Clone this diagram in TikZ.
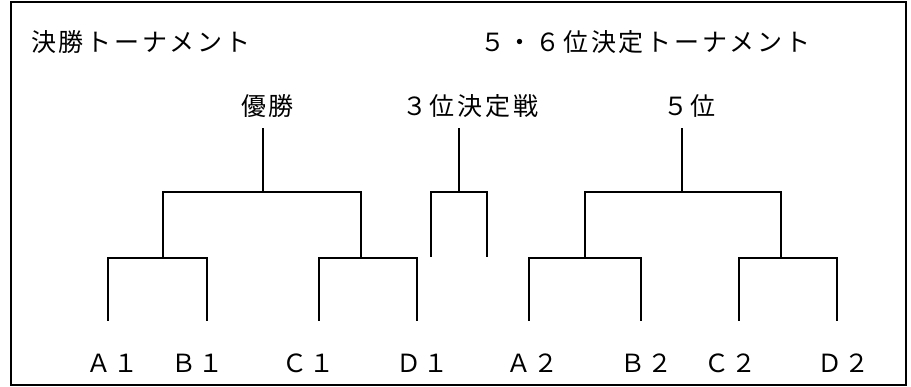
\documentclass[tikz,border=0pt]{standalone}
\usepackage{fontspec}
\newfontfamily\jp[LetterSpace=11]{Noto Sans CJK JP}
\begin{document}
\begin{tikzpicture}[x=1pt,y=-1pt,line width=2pt,line join=miter,
  lbl/.style={anchor=base west,inner sep=0pt,font=\jp\fontsize{25}{29}\selectfont},
  bracket/.style={draw=black,line width=2pt}]
\useasboundingbox (0,0) rectangle (911,387);
\draw[line width=2pt] (11,2) rectangle (906,385);
% titles
\node[lbl] (t1) at (30,52) {決勝トーナメント};
\node[lbl] (t2) at (479,52) {５・６位決定トーナメント};
\node[lbl] (w1) at (240,116) {優勝};
\node[lbl] (w3) at (401,116) {３位決定戦};
\node[lbl] (w5) at (662,116) {５位};
% players
\node[lbl] (pa1) at (85,373) {Ａ１};
\node[lbl] (pb1) at (170,373) {Ｂ１};
\node[lbl] (pc1) at (281,373) {Ｃ１};
\node[lbl] (pd1) at (395,373) {Ｄ１};
\node[lbl] (pa2) at (505,373) {Ａ２};
\node[lbl] (pb2) at (619,373) {Ｂ２};
\node[lbl] (pc2) at (703,373) {Ｃ２};
\node[lbl] (pd2) at (816,373) {Ｄ２};
% coordinates
\coordinate (la1) at (108,321);
\coordinate (lb1) at (207,321);
\coordinate (lc1) at (319,321);
\coordinate (ld1) at (417,321);
\coordinate (la2) at (529,321);
\coordinate (lb2) at (641,321);
\coordinate (lc2) at (739,321);
\coordinate (ld2) at (837,321);
\coordinate (s1) at (163,258);
\coordinate (s2) at (361,258);
\coordinate (s3) at (585,258);
\coordinate (s4) at (781,258);
\coordinate (f1) at (263,192);
\coordinate (f5) at (682,192);
\coordinate (f3) at (459,192);
\coordinate (e3l) at (431,257);
\coordinate (e3r) at (487,257);
\coordinate (top1) at (263,128);
\coordinate (top3) at (459,128);
\coordinate (top5) at (682,128);
% final tournament
\draw[bracket] (la1) |- (s1) -| (lb1);
\draw[bracket] (lc1) |- (s2) -| (ld1);
\draw[bracket] (s1) |- (f1) -| (s2);
\draw[bracket] (f1) -- (top1);
% third place
\draw[bracket] (e3l) |- (f3) -| (e3r);
\draw[bracket] (f3) -- (top3);
% 5-6 tournament
\draw[bracket] (la2) |- (s3) -| (lb2);
\draw[bracket] (lc2) |- (s4) -| (ld2);
\draw[bracket] (s3) |- (f5) -| (s4);
\draw[bracket] (f5) -- (top5);
\end{tikzpicture}
\end{document}
